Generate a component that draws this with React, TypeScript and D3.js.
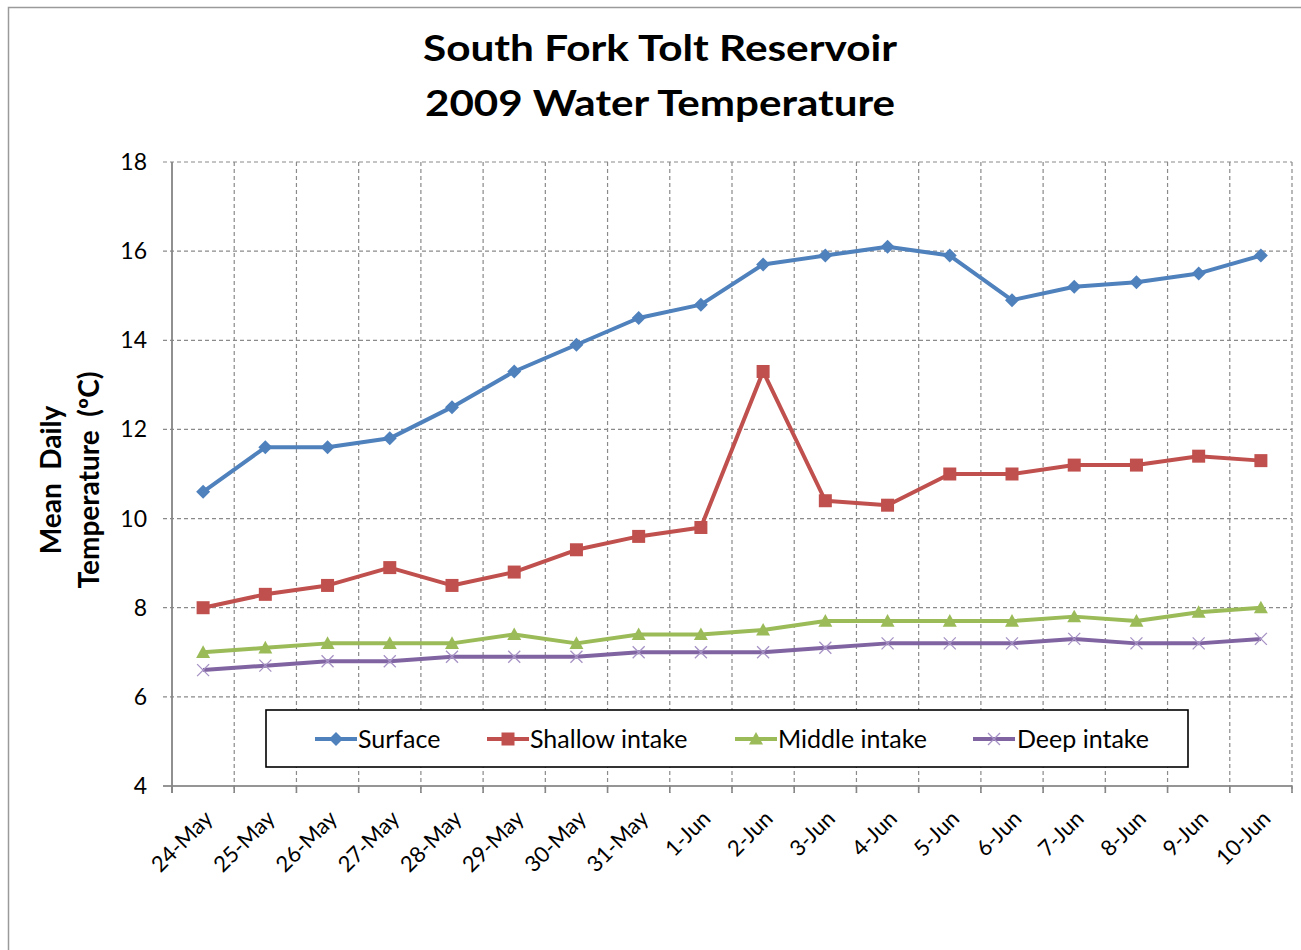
import React from 'react';
import * as d3 from 'd3';

const categories = ['24-May','25-May','26-May','27-May','28-May','29-May','30-May','31-May','1-Jun','2-Jun','3-Jun','4-Jun','5-Jun','6-Jun','7-Jun','8-Jun','9-Jun','10-Jun'];
const surface = [10.6,11.6,11.6,11.8,12.5,13.3,13.9,14.5,14.8,15.7,15.9,16.1,15.9,14.9,15.2,15.3,15.5,15.9];
const shallowIntake = [8.0,8.3,8.5,8.9,8.5,8.8,9.3,9.6,9.8,13.3,10.4,10.3,11.0,11.0,11.2,11.2,11.4,11.3];
const middleIntake = [7.0,7.1,7.2,7.2,7.2,7.4,7.2,7.4,7.4,7.5,7.7,7.7,7.7,7.7,7.8,7.7,7.9,8.0];
const deepIntake = [6.6,6.7,6.8,6.8,6.9,6.9,6.9,7.0,7.0,7.0,7.1,7.2,7.2,7.2,7.3,7.2,7.2,7.3];
const yTicks = [4,6,8,10,12,14,16,18];
const titleLines = ['South Fork Tolt Reservoir', '2009 Water Temperature'];
const yLabelLines = ['Mean  Daily', 'Temperature  (ºC)'];
const seriesNames = ['Surface', 'Shallow intake', 'Middle intake', 'Deep intake'];

const series = [
  { name: seriesNames[0], values: surface, color: '#4F81BD', marker: 'diamond' },
  { name: seriesNames[1], values: shallowIntake, color: '#C0504D', marker: 'square' },
  { name: seriesNames[2], values: middleIntake, color: '#9BBB59', marker: 'triangle' },
  { name: seriesNames[3], values: deepIntake, color: '#8064A2', marker: 'x' },
];

const FONT = 'Lato, "Open Sans", sans-serif';
const W = 1301, H = 950;
const plot = { left: 172, right: 1292, top: 162, bottom: 786 };

function Marker({ type, x, y, color }: { type: string; x: number; y: number; color: string }) {
  if (type === 'diamond') {
    const r = 7;
    return <path d={`M${x},${y - r}L${x + r},${y}L${x},${y + r}L${x - r},${y}Z`} fill={color} />;
  }
  if (type === 'square') {
    const r = 6.5;
    return <rect x={x - r} y={y - r} width={2 * r} height={2 * r} fill={color} />;
  }
  if (type === 'triangle') {
    const r = 7;
    return <path d={`M${x},${y - r}L${x + r},${y + r * 0.8}L${x - r},${y + r * 0.8}Z`} fill={color} />;
  }
  const r = 6;
  return <path d={`M${x - r},${y - r}L${x + r},${y + r}M${x + r},${y - r}L${x - r},${y + r}`} stroke="#A692C4" strokeWidth={1.3} fill="none" />;
}

export default function App() {
  const x = d3.scaleBand<string>().domain(categories).range([plot.left, plot.right]).paddingInner(0).paddingOuter(0);
  const y = d3.scaleLinear().domain([4, 18]).range([plot.bottom, plot.top]);
  const cx = (c: string) => (x(c) as number) + x.bandwidth() / 2;
  const line = d3.line<number>().x((_, i) => cx(categories[i])).y(d => y(d));
  const bounds = categories.map(c => x(c) as number).concat([plot.right]);

  const legendItems = [
    { lx: 315, tx: 358 },
    { lx: 487, tx: 530 },
    { lx: 735, tx: 778 },
    { lx: 973, tx: 1017 },
  ];
  const titleWidths = [474, 470];

  return (
    <svg width={W} height={H} style={{ position: 'fixed', left: 0, top: 0, background: '#fff' }} fontFamily={FONT}>
      <rect x={0} y={0} width={W} height={H} fill="#fff" />
      <rect x={8.5} y={7.5} width={1400} height={1000} fill="none" stroke="#9a9a9a" strokeWidth={1.5} />

      {titleLines.map((t, i) => (
        <text key={t} x={660} y={61 + i * 55} textAnchor="middle" fontWeight="bold" fontSize={36} fill="#000"
          textLength={titleWidths[i]} lengthAdjust="spacingAndGlyphs">{t}</text>
      ))}

      {/* horizontal gridlines */}
      {yTicks.map(t => (
        <line key={'h' + t} x1={163} x2={plot.right} y1={y(t)} y2={y(t)} stroke="#8a8a8a" strokeWidth={1.2} strokeDasharray={t === 4 ? undefined : '4,3'} />
      ))}
      {/* vertical gridlines */}
      {bounds.map((b, i) => (
        <line key={'v' + i} x1={b} x2={b} y1={plot.top} y2={plot.bottom + 7} stroke="#8a8a8a" strokeWidth={1.2} strokeDasharray={i === 0 ? undefined : '4,3'} />
      ))}
      {/* axes */}
      <line x1={plot.left} x2={plot.left} y1={plot.top} y2={plot.bottom + 7} stroke="#868686" strokeWidth={1.6} />
      <line x1={163} x2={plot.right} y1={plot.bottom} y2={plot.bottom} stroke="#868686" strokeWidth={1.6} />
      {bounds.map((b, i) => (
        <line key={'tk' + i} x1={b} x2={b} y1={plot.bottom} y2={plot.bottom + 7} stroke="#868686" strokeWidth={1.6} />
      ))}

      {yTicks.map(t => (
        <text key={'yl' + t} x={147} y={y(t) + 8} textAnchor="end" fontSize={23} fill="#000">{t}</text>
      ))}

      {categories.map(c => (
        <text key={'xl' + c} transform={`translate(${cx(c) + 11},${plot.bottom + 34}) rotate(-45)`} textAnchor="end" fontSize={22} fill="#000">{c}</text>
      ))}

      {yLabelLines.map((t, i) => (
        <text key={t} transform={`translate(${61 + i * 38},480) rotate(-90)`} textAnchor="middle" fontWeight="bold" fontSize={28} fill="#000" style={{ whiteSpace: 'pre' }}>{t}</text>
      ))}

      {/* series */}
      {series.map(s => (
        <g key={s.name}>
          <path d={line(s.values) || ''} fill="none" stroke={s.color} strokeWidth={4} strokeLinejoin="round" />
          {s.values.map((v, i) => (
            <Marker key={i} type={s.marker} x={cx(categories[i])} y={y(v)} color={s.color} />
          ))}
        </g>
      ))}

      {/* legend */}
      <rect x={266} y={710} width={922} height={57} fill="#fff" stroke="#000" strokeWidth={1.6} />
      {series.map((s, i) => {
        const it = legendItems[i];
        const my = 739;
        return (
          <g key={'lg' + s.name}>
            <line x1={it.lx} x2={it.lx + 42} y1={my} y2={my} stroke={s.color} strokeWidth={4} />
            <Marker type={s.marker} x={it.lx + 21} y={my} color={s.color} />
            <text x={it.tx} y={my + 9} fontSize={25} fill="#000">{s.name}</text>
          </g>
        );
      })}
    </svg>
  );
}
